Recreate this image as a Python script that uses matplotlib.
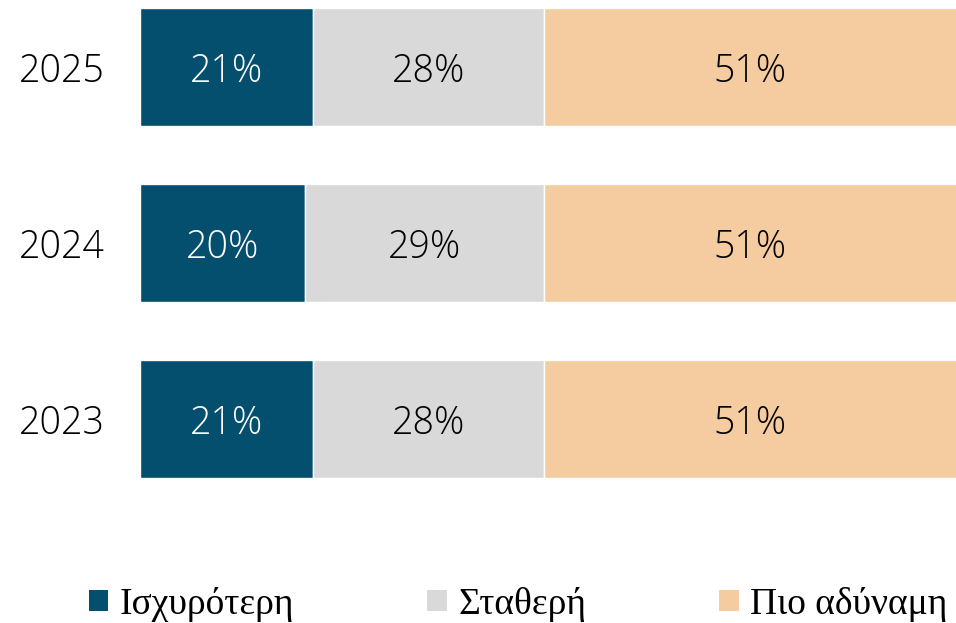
import matplotlib
matplotlib.use("Agg")
import matplotlib.pyplot as plt
from matplotlib.patches import Patch
import numpy as np

years = ["2023", "2024", "2025"]
series_names = ["Ισχυρότερη", "Σταθερή", "Πιο αδύναμη"]
stronger = [21, 20, 21]
stable = [28, 29, 28]
weaker = [51, 51, 51]
colors = ["#044E6E", "#D9D9D9", "#F5CBA0"]
text_colors = ["white", "black", "black"]

fig = plt.figure(figsize=(9.56, 6.23), dpi=100)
ax = fig.add_axes([140/956, 0, 824/956, 1])

y = np.arange(len(years))
left = np.zeros(len(years))
for vals, c, tc in zip([stronger, stable, weaker], colors, text_colors):
    vals = np.array(vals, dtype=float)
    ax.barh(y, vals, left=left, height=0.67, color=c, edgecolor="white", linewidth=1)
    for yi, l, v in zip(y, left, vals):
        xc = l + v/2 if l + v < 100 else l + (100*(816/824) - l)/2
        ax.text(xc, yi, f"{int(v)}%", ha="center", va="center_baseline", color=tc,
                fontsize=27, family=["Open Sans", "DejaVu Sans"], fontweight="light")
    left += vals

for yi, lab in zip(y, years):
    ax.text(-35/824*100, yi, lab, ha="right", va="center_baseline", fontsize=27,
            family=["Open Sans", "DejaVu Sans"], fontweight="light", color="black",
            clip_on=False)

ax.set_xlim(0, 100)
ax.set_ylim(-1.159, 2.38)
ax.axis("off")

handles = [Patch(facecolor=c, edgecolor="none") for c in colors]
fig.legend(handles, series_names, loc="center", bbox_to_anchor=(0.542, 0.030),
           ncol=3, frameon=False, prop={"family": ["Liberation Serif", "DejaVu Serif"], "size": 27},
           handlelength=0.52, handleheight=0.52, handletextpad=0.3, columnspacing=3.55,
           borderpad=0.2)

fig.savefig("out.png", dpi=100)
